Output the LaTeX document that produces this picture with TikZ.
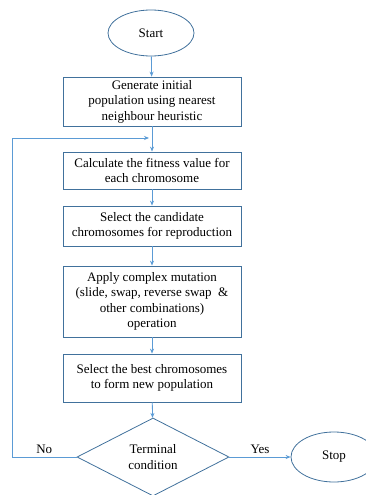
\documentclass[tikz,border=0pt]{standalone}
\usepackage{fontspec}
\setmainfont{Liberation Serif}
\usetikzlibrary{shapes.geometric,arrows.meta}
\definecolor{boxblue}{HTML}{41719C}
\definecolor{lineblue}{HTML}{5B9BD5}
\tikzset{
    stepbox/.style={draw=boxblue, thick, rectangle, align=center, minimum width=178pt, inner sep=2pt,
        font=\fontsize{13}{15.5}\selectfont},
    term/.style={draw=boxblue, thick, ellipse, minimum width=86pt, minimum height=46pt,
        font=\fontsize{13}{15.5}\selectfont},
    decide/.style={draw=boxblue, thick, diamond, aspect=2, minimum width=152pt, minimum height=78pt,
        inner sep=0pt, align=center, font=\fontsize{13}{15.5}\selectfont},
    arr/.style={draw=lineblue, thick, -{Stealth[length=5pt,width=4pt]}},
    lbl/.style={font=\fontsize{13}{15.5}\selectfont}
}
\begin{document}
\begin{tikzpicture}[x=1pt,y=-1pt]
    \useasboundingbox (0,0) rectangle (365,495);
    \node[term] (start) at (151,33) {Start};
    \node[stepbox, minimum height=49pt] (init) at (152,101.5) {Generate initial\\population using nearest\\neighbour heuristic};
    \node[stepbox, minimum height=37pt] (fit) at (152,170.5) {Calculate the fitness value for\\each chromosome};
    \node[stepbox, minimum height=40pt] (sel) at (152,226) {Select the candidate\\chromosomes for reproduction};
    \node[stepbox, minimum height=71pt] (mut) at (152,301.5) {Apply complex mutation\\(slide, swap, reverse swap \ \&\\other combinations)\\operation};
    \node[stepbox, minimum height=48pt] (best) at (152,378) {Select the best chromosomes\\to form new population};
    \node[decide] (cond) at (153,457) {Terminal\\condition};
    \node[term, minimum height=50pt] (stop) at (334,457) {Stop};
    \coordinate (loop) at (12,138);
    % main flow
    \draw[arr] (start) -- (init);
    \draw[arr] (init) -- (fit);
    \draw[arr] (fit) -- (sel);
    \draw[arr] (sel) -- (mut);
    \draw[arr] (mut) -- (best);
    \draw[arr] (best) -- (cond);
    \draw[arr] (cond) -- node[lbl, above] {Yes} (stop);
    % back to fitness
    \draw[arr] (cond.west) -- node[lbl, above, pos=0.5] {No} (cond.west -| loop) -- (loop) -- ([xshift=-3pt]loop -| init.south);
\end{tikzpicture}
\end{document}
